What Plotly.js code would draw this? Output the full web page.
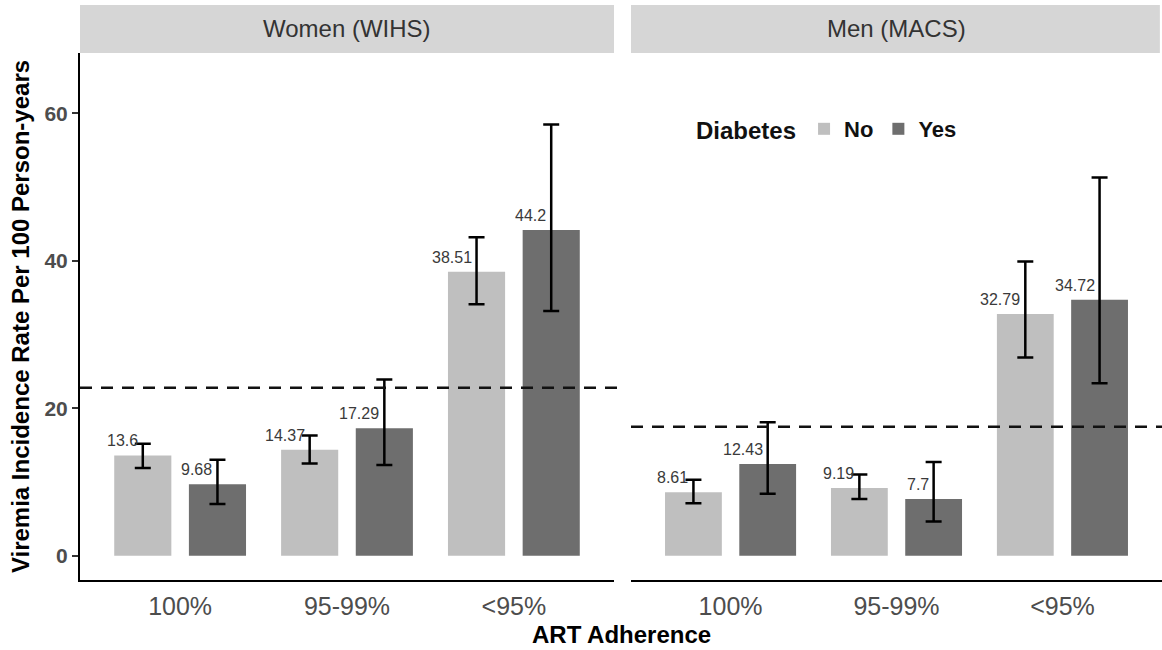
<!DOCTYPE html>
<html>
<head>
<meta charset="utf-8">
<script src="https://cdn.plot.ly/plotly-3.0.1.min.js"></script>
<style>
  html, body { margin: 0; padding: 0; background: #ffffff; }
  #chart { width: 1162px; height: 650px; }
</style>
</head>
<body>
<div id="chart"></div>
<script>
// ---- Data ----
const categories = ['100%', '95-99%', '<95%'];
const panelNames = ['Women (WIHS)', 'Men (MACS)'];
const groupNames = ['No', 'Yes'];
const referenceRates = [22.8, 17.5];

const womenNoRate  = [13.6, 14.37, 38.51];
const womenNoLower = [11.9, 12.5, 34.1];
const womenNoUpper = [15.2, 16.3, 43.2];

const womenYesRate  = [9.68, 17.29, 44.2];
const womenYesLower = [7.0, 12.3, 33.2];
const womenYesUpper = [13.0, 23.9, 58.5];

const menNoRate  = [8.61, 9.19, 32.79];
const menNoLower = [7.1, 7.7, 26.9];
const menNoUpper = [10.3, 11.0, 39.9];

const menYesRate  = [12.43, 7.7, 34.72];
const menYesLower = [8.4, 4.65, 23.4];
const menYesUpper = [18.1, 12.7, 51.3];

const yTicks = [0, 20, 40, 60];

// ---- Styling ----
const FONT = 'Liberation Sans, Arial, Helvetica, sans-serif';
const colors = { No: '#bfbfbf', Yes: '#6e6e6e' };
const W = 1162, H = 650;
const px = v => v / W;
const py = v => 1 - v / H;

const panels = [
  { name: panelNames[0], xa: 'x',  rates: { No: womenNoRate, Yes: womenYesRate },
    lo: { No: womenNoLower, Yes: womenYesLower }, hi: { No: womenNoUpper, Yes: womenYesUpper }, ref: referenceRates[0] },
  { name: panelNames[1], xa: 'x2', rates: { No: menNoRate, Yes: menYesRate },
    lo: { No: menNoLower, Yes: menYesLower }, hi: { No: menNoUpper, Yes: menYesUpper }, ref: referenceRates[1] }
];

const bargap = 0.105, bargroupgap = 0.235;
const slot = (1 - bargap) / 2;
const dodge = { No: -slot / 2, Yes: slot / 2 };

const traces = [];
const annotations = [];
const shapes = [];

panels.forEach((p, pi) => {
  groupNames.forEach(g => {
    const r = p.rates[g];
    traces.push({
      type: 'bar',
      name: g,
      legendgroup: g,
      showlegend: pi === 0,
      x: categories,
      y: r,
      xaxis: p.xa,
      yaxis: 'y',
      marker: { color: colors[g], line: { width: 0 } },
      error_y: {
        type: 'data',
        symmetric: false,
        array: r.map((v, i) => p.hi[g][i] - v),
        arrayminus: r.map((v, i) => v - p.lo[g][i]),
        color: '#000000',
        thickness: 2.5,
        width: 8
      },
      hoverinfo: 'x+y'
    });
    r.forEach((v, i) => {
      annotations.push({
        xref: p.xa, yref: 'y',
        x: i + dodge[g], y: v,
        text: String(v),
        showarrow: false,
        xanchor: 'right', yanchor: 'bottom',
        xshift: -3, yshift: 4,
        font: { family: FONT, size: 16, color: '#3a3a3a' }
      });
    });
  });

  // strip background + label
  shapes.push({
    type: 'rect', xref: p.xa + ' domain', yref: 'paper',
    x0: 0, x1: pi === 1 ? 0.996 : 1, y0: py(53), y1: py(5),
    fillcolor: '#d6d6d6', line: { width: 0 }, layer: 'below'
  });
  annotations.push({
    xref: p.xa + ' domain', yref: 'paper', x: 0.5, y: py(29),
    text: p.name, showarrow: false, xanchor: 'center', yanchor: 'middle',
    font: { family: FONT, size: 24, color: '#333333' }
  });

  // overall reference rate (dashed)
  shapes.push({
    type: 'line', xref: p.xa + ' domain', yref: 'y',
    x0: 0, x1: pi === 0 ? 1.01 : 1, y0: p.ref, y1: p.ref,
    line: { color: '#111111', width: 2.5, dash: '12px,9px' }, layer: 'above'
  });
});

// x axis title spanning both panels
annotations.push({
  xref: 'paper', yref: 'paper', x: px(621), y: py(634),
  text: 'ART Adherence', showarrow: false, xanchor: 'center', yanchor: 'middle',
  font: { family: FONT, size: 24, color: '#000000', weight: 'bold' }
});

const xAxisCommon = {
  type: 'category',
  categoryorder: 'array',
  categoryarray: categories,
  range: [-0.6, 2.6],
  showline: true, linecolor: '#000000', linewidth: 2,
  ticks: '', showgrid: false, zeroline: false,
  tickfont: { family: FONT, size: 25, color: '#4d4d4d' },
  ticklabelstandoff: 3,
  anchor: 'y',
  fixedrange: true
};

const layout = {
  width: W, height: H,
  autosize: false,
  margin: { l: 0, r: 0, t: 0, b: 0 },
  paper_bgcolor: '#ffffff',
  plot_bgcolor: '#ffffff',
  font: { family: FONT },
  barmode: 'group',
  bargap: bargap,
  bargroupgap: bargroupgap,
  xaxis: Object.assign({}, xAxisCommon, { domain: [px(80), px(614)] }),
  xaxis2: Object.assign({}, xAxisCommon, { domain: [px(631), 1] }),
  yaxis: {
    domain: [py(580), py(53)],
    range: [-3.3, 68.2],
    tickvals: yTicks,
    ticktext: yTicks.map(String),
    showline: true, linecolor: '#000000', linewidth: 2,
    ticks: 'outside', ticklen: 6, tickwidth: 2, tickcolor: '#333333',
    showgrid: false, zeroline: false,
    tickfont: { family: FONT, size: 21, color: '#4d4d4d', weight: 'bold' },
    title: {
      text: 'Viremia Incidence Rate Per 100 Person-years',
      font: { family: FONT, size: 24, color: '#000000', weight: 'bold' },
      standoff: 8
    },
    anchor: 'x',
    fixedrange: true
  },
  legend: {
    orientation: 'h',
    x: px(694), y: py(129),
    xanchor: 'left', yanchor: 'middle',
    bgcolor: 'rgba(0,0,0,0)',
    borderwidth: 0,
    title: { text: 'Diabetes', side: 'left', font: { family: FONT, size: 24, color: '#111111', weight: 'bold' } },
    font: { family: FONT, size: 22, color: '#111111', weight: 'bold' },
    traceorder: 'normal'
  },
  shapes: shapes,
  annotations: annotations
};

Plotly.newPlot('chart', traces, layout, { displayModeBar: false, staticPlot: true });
</script>
</body>
</html>
